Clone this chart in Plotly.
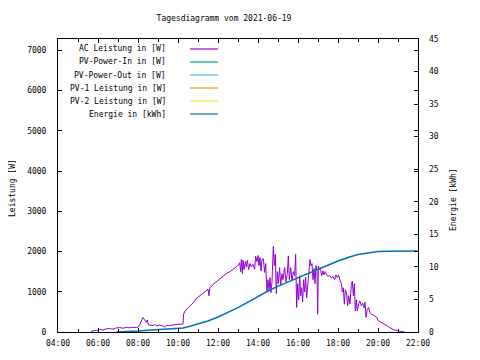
import plotly.graph_objects as go

DAY = "2021-06-19"

# AC Leistung [W]
ac_time = ["05:40","05:42","05:55","06:05","06:15","06:25","06:35","06:45","06:55","07:05","07:15","07:25","07:35","07:45","07:55",
"08:00","08:05","08:10","08:15","08:20","08:25","08:28","08:30","08:35","08:45","08:50","08:55","09:05","09:15","09:20","09:25","09:35","09:45","09:50",
"10:00","10:10","10:15","10:17","10:21","10:30","10:40","10:46","10:55","11:05","11:15","11:26","11:30","11:33","11:35","11:45","11:55",
"12:06","12:15","12:25","12:36","12:45","12:55","13:01","13:05","13:08","13:10","13:13","13:15","13:18","13:22","13:25","13:28","13:32","13:36","13:40","13:45","13:50","13:53","13:57",
"14:00","14:03","14:06","14:09","14:12","14:16","14:20","14:23","14:27","14:30","14:33","14:36","14:39","14:42","14:46","14:49","14:52","14:55","14:58",
"15:01","15:05","15:08","15:12","15:15","15:20","15:24","15:28","15:31","15:34","15:38","15:42","15:46","15:50","15:53","15:56","15:59",
"16:02","16:05","16:08","16:11","16:14","16:17","16:20","16:23","16:26","16:29","16:32","16:36","16:39","16:42","16:45","16:48","16:51","16:54","16:57","16:59",
"17:01","17:04","17:07","17:11","17:15","17:18","17:22","17:26","17:30","17:35","17:40","17:45","17:50","17:54","17:58",
"18:02","18:06","18:10","18:13","18:16","18:19","18:22","18:26","18:29","18:32","18:36","18:40","18:43","18:46","18:49","18:52","18:55","18:58",
"19:02","19:06","19:10","19:14","19:18","19:21","19:24","19:28","19:32","19:35","19:40","19:46","19:52","19:56",
"20:00","20:06","20:12","20:18","20:24","20:30","20:36","20:42","20:48","20:55","21:05","21:15","21:20"]
ac_watt = [0,25,40,60,50,80,85,70,100,110,95,115,105,120,110,
120,180,260,360,300,240,300,200,170,160,190,150,170,150,120,165,160,175,190,
195,190,200,450,520,600,680,730,830,900,960,1040,1060,900,1080,1180,1250,
1310,1380,1450,1500,1560,1620,1660,1720,1500,1800,1450,1780,1550,1750,1620,1780,1550,1700,1620,1680,1560,1880,1750,
1900,1650,1850,1520,1800,1820,1480,1700,1000,1300,1050,1350,980,1250,2130,1650,1930,950,1500,
1200,1600,1150,1450,1300,1600,1250,1450,1890,1300,1600,1270,1500,1400,1930,610,1200,
800,1400,900,1100,750,1300,1000,1360,850,1200,1450,1800,1650,1700,1300,1580,1200,1650,1500,440,
1640,1550,1600,1400,1520,1420,1500,1410,1390,1400,1340,1380,1300,1420,1350,
1420,1280,1200,1000,1100,690,1050,940,650,900,700,1180,1265,900,1200,520,800,520,
700,770,650,720,600,735,365,560,610,490,440,420,380,365,
280,260,230,200,165,130,100,80,50,40,25,10,0]

# Energie [kWh]
en_time = ["06:55","07:30","08:00","08:30","09:00","09:30","10:00","10:15","10:30","11:00","11:30","12:00","12:30","13:00","13:30",
"14:00","14:30","15:00","15:30","16:00","16:30","17:00","17:30","18:00","18:30","19:00","19:30","20:00","20:30","21:00","22:00"]
en_kwh = [0,0.05,0.15,0.27,0.37,0.45,0.5,0.6,0.8,1.2,1.7,2.3,3.0,3.74,4.6,
5.5,6.3,7.05,7.7,8.35,9.0,9.6,10.3,10.9,11.45,11.9,12.15,12.35,12.42,12.45,12.45]

legend_names = ["AC Leistung in [W]","PV-Power-In in [W]","PV-Power-Out in [W]","PV-1 Leistung in [W]","PV-2 Leistung in [W]","Energie in [kWh]"]
legend_colors = ["#9400d3","#009e73","#56b4e9","#e69f00","#f0e442","#0072b2"]

FONT = "DejaVu Sans Mono"
OFF = 8                      # page body margin
W, H = 480 - OFF, 360 - OFF  # figure size
# plot area in screen pixels
L, R, T, B = 58, 418, 39, 332

def px2paper(x, y):
    return (x - L) / (R - L), (B - y) / (B - T)

fig = go.Figure()
fig.add_trace(go.Scatter(x=[f"{DAY} {t}" for t in ac_time], y=ac_watt, mode="lines",
                         line=dict(color=legend_colors[0], width=1), name=legend_names[0], showlegend=False))
fig.add_trace(go.Scatter(x=[f"{DAY} {t}" for t in en_time], y=en_kwh, mode="lines", yaxis="y2",
                         line=dict(color=legend_colors[5], width=1.5), name=legend_names[5], showlegend=False))

annotations = []
shapes = []
for i, (n, c) in enumerate(zip(legend_names, legend_colors)):
    py = 49 + i * 13
    tx, ty = px2paper(168, py)
    annotations.append(dict(x=tx, y=ty, xref="paper", yref="paper", text=n, showarrow=False,
                            xanchor="right", yanchor="middle", font=dict(family=FONT, size=8, color="black")))
    x0, y0 = px2paper(190, py)
    x1, _ = px2paper(218, py)
    shapes.append(dict(type="line", xref="paper", yref="paper", x0=x0, x1=x1, y0=y0, y1=y0,
                       line=dict(color=c, width=1.2)))

lx, ly = px2paper(12, 188)
annotations.append(dict(x=lx, y=ly, xref="paper", yref="paper", text="Leistung [W]", textangle=-90,
                        xanchor="center", yanchor="middle", showarrow=False,
                        font=dict(family=FONT, size=8, color="black")))
rx, ry = px2paper(453, 200)
annotations.append(dict(x=rx, y=ry, xref="paper", yref="paper", text="Energie [kWh]", textangle=-90,
                        xanchor="center", yanchor="middle", showarrow=False,
                        font=dict(family=FONT, size=8, color="black")))

fig.update_layout(
    width=W, height=H,
    margin=dict(l=L - OFF, r=W - (R - OFF), t=T - OFF, b=H - (B - OFF), autoexpand=False),
    paper_bgcolor="white", plot_bgcolor="white",
    font=dict(family=FONT, size=8, color="black"),
    title=dict(text="Tagesdiagramm vom 2021-06-19", x=(224 - OFF) / W, y=1 - (18 - OFF) / H,
               xref="container", yref="container", xanchor="center", yanchor="middle",
               font=dict(family=FONT, size=8, color="black")),
    xaxis=dict(type="date", range=[f"{DAY} 04:00", f"{DAY} 22:00"], dtick=2 * 3600 * 1000,
               tick0=f"{DAY} 04:00", tickformat="%H:%M", ticks="inside", ticklen=4, tickcolor="black",
               showline=True, linecolor="black", linewidth=1, mirror="ticks", showgrid=False, zeroline=False,
               minor=dict(dtick=3600 * 1000, ticks="inside", ticklen=3, tickcolor="black", showgrid=False),
               ticklabelstandoff=3, tickfont=dict(family=FONT, size=8)),
    yaxis=dict(range=[0, 7280], dtick=1000, ticks="inside", ticklen=4, tickcolor="black",
               showline=True, linecolor="black", linewidth=1, mirror="ticks", showgrid=False, zeroline=False,
               ticklabelstandoff=9, tickfont=dict(family=FONT, size=8)),
    yaxis2=dict(range=[0, 45], dtick=5, overlaying="y", side="right", ticks="inside", ticklen=4, tickcolor="black",
                showline=False, showgrid=False, zeroline=False, ticklabelstandoff=10,
                tickfont=dict(family=FONT, size=8)),
    annotations=annotations, shapes=shapes, showlegend=False,
)

fig.write_html("out.html")
